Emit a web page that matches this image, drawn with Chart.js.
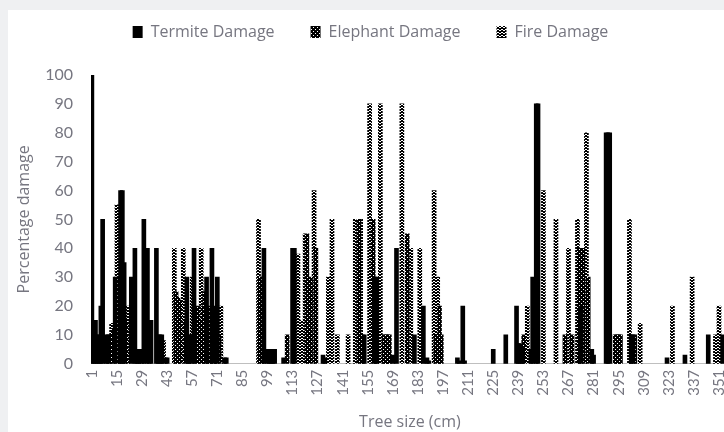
<!DOCTYPE html>
<html>
<head>
<meta charset="utf-8">
<script src="https://cdn.jsdelivr.net/npm/chart.js@4.4.1/dist/chart.umd.min.js"></script>
<style>
  html, body { margin: 0; padding: 0; background: #eff0f2; overflow: hidden; }
  #card { position: absolute; left: 8px; top: 10px; width: 735px; height: 440px; background: #fff; overflow: hidden; }
</style>
</head>
<body>
<div id="card"><canvas id="damageChart" width="735" height="430"></canvas></div>
<script>
// tree sizes 1..356 cm, one category per cm
const sizes = [];
for (let s = 1; s <= 356; s++) sizes.push(String(s));

const termiteSize = [1, 2, 3, 4, 5, 6, 7, 9, 10, 14, 17, 18, 19, 23, 25, 26, 27, 28, 30, 32, 34, 37, 38, 39, 40, 42, 43,
  54, 55, 56, 58, 65, 68, 71, 75, 76, 97, 99, 100, 101, 102, 103, 108, 113, 114, 130, 131, 153, 159, 160, 169, 171,
  181, 186, 188, 189, 205, 206, 208, 209, 225, 232, 238, 239, 240, 241, 246, 247, 249, 250, 274, 280, 281, 288, 289,
  290, 302, 303, 322, 332, 345, 353];
const termiteDamage = [100, 15, 15, 10, 10, 20, 50, 10, 10, 30, 60, 60, 35, 30, 40, 5, 5, 5, 50, 40, 15, 40, 10, 10, 10, 2, 2,
  30, 10, 10, 40, 30, 40, 30, 2, 2, 40, 5, 5, 5, 5, 5, 2, 40, 40, 3, 2, 10, 30, 30, 3, 40,
  10, 20, 2, 1, 2, 1, 20, 1, 5, 10, 20, 7, 7, 5, 5, 30, 90, 90, 20, 5, 3, 80, 80,
  80, 10, 10, 2, 3, 10, 10];

const elephantSize = [11, 13, 16, 20, 29, 33, 48, 49, 50, 53, 60, 61, 63, 64, 66, 67, 69, 70, 72, 95, 96, 110, 121, 123,
  126, 150, 152, 158, 164, 165, 166, 167, 177, 193, 195, 196, 242, 265, 269, 273, 275, 278, 293, 294, 295, 296, 304];
const elephantDamage = [10, 12, 30, 15, 5, 15, 25, 23, 22, 15, 20, 15, 20, 25, 20, 15, 20, 15, 10, 30, 30, 10, 45, 30,
  40, 50, 10, 50, 10, 10, 10, 10, 45, 10, 20, 10, 10, 10, 10, 40, 40, 30, 10, 10, 10, 10, 10];

const fireSize = [12, 15, 21, 41, 47, 52, 57, 62, 73, 94, 116, 118, 120, 125, 133, 135, 138, 144, 148, 151, 156, 162,
  174, 179, 184, 192, 194, 244, 253, 260, 267, 272, 277, 301, 307, 325, 336, 349, 351];
const fireDamage = [14, 55, 20, 8, 40, 40, 30, 40, 20, 50, 38, 15, 45, 60, 30, 50, 10, 10, 50, 50, 90, 90,
  90, 40, 40, 60, 30, 20, 60, 50, 40, 50, 80, 50, 14, 20, 30, 10, 20];

const yTicks = [0, 10, 20, 30, 40, 50, 60, 70, 80, 90, 100];
const labelStep = 14;

function makePattern(rows) {
  const c = document.createElement('canvas');
  c.width = rows[0].length;
  c.height = rows.length;
  const g = c.getContext('2d');
  g.fillStyle = '#ffffff';
  g.fillRect(0, 0, c.width, c.height);
  g.fillStyle = '#000000';
  rows.forEach((r, y) => {
    for (let x = 0; x < r.length; x++) if (r[x] === 'x') g.fillRect(x, y, 1, 1);
  });
  return g.createPattern(c, 'repeat');
}

const elephantFill = makePattern(['xxxx', 'x.xx', 'xxxx', 'xxx.']);
const fireFill = makePattern(['xxxx', 'x..x', '.xx.']);

function points(xs, ys) {
  return xs.map((s, i) => ({ x: String(s), y: ys[i] }));
}

const tickFont = 'Lato, sans-serif';
const textFont = '"Open Sans", sans-serif';
const grey = '#767680';

// extra room under the legend, and the row nudged a little to the left
const legendGap = {
  id: 'legendGap',
  beforeInit(chart) {
    const fit = chart.legend.fit;
    chart.legend.fit = function () {
      fit.bind(chart.legend)();
      this.height += 25;
      if (this.lineWidths) this.lineWidths = this.lineWidths.map(w => w + 10);
    };
  }
};

new Chart(document.getElementById('damageChart').getContext('2d'), {
  type: 'bar',
  data: {
    labels: sizes,
    datasets: [{
      label: 'Termite Damage',
      data: points(termiteSize, termiteDamage),
      backgroundColor: '#000000',
      barThickness: 4
    }, {
      label: 'Elephant Damage',
      data: points(elephantSize, elephantDamage),
      backgroundColor: elephantFill,
      barThickness: 4
    }, {
      label: 'Fire Damage',
      data: points(fireSize, fireDamage),
      backgroundColor: fireFill,
      barThickness: 4
    }]
  },
  options: {
    responsive: false,
    animation: false,
    devicePixelRatio: 1,
    grouped: false,
    layout: { padding: { top: -22, left: 0, right: 0, bottom: 8 } },
    plugins: {
      legend: {
        position: 'top',
        labels: {
          boxWidth: 10,
          boxHeight: 12,
          padding: 36,
          color: grey,
          font: { family: textFont, size: 16 }
        }
      },
      tooltip: { enabled: false }
    },
    scales: {
      x: {
        grid: { display: false, drawTicks: false },
        border: { display: true, color: '#bfbfbf' },
        ticks: {
          autoSkip: false,
          minRotation: 90,
          maxRotation: 90,
          padding: 6,
          color: grey,
          font: { family: tickFont, size: 15 },
          callback: function (v, i) {
            return i % labelStep === 0 ? this.getLabelForValue(v) : null;
          }
        },
        title: {
          display: true,
          text: 'Tree size (cm)',
          color: grey,
          font: { family: textFont, size: 16 },
          padding: { top: 11, bottom: 0 }
        }
      },
      y: {
        min: 0,
        max: 100,
        afterBuildTicks: axis => { axis.ticks = yTicks.map(v => ({ value: v })); },
        afterFit: axis => { axis.width = 83; },
        grid: { display: false, drawTicks: false },
        border: { display: false },
        ticks: {
          padding: 18,
          color: grey,
          font: { family: tickFont, size: 16 }
        },
        title: {
          display: true,
          text: 'Percentage damage',
          color: grey,
          font: { family: textFont, size: 16 },
          padding: { top: 7, bottom: 0 }
        }
      }
    }
  },
  plugins: [legendGap]
});
</script>
</body>
</html>
